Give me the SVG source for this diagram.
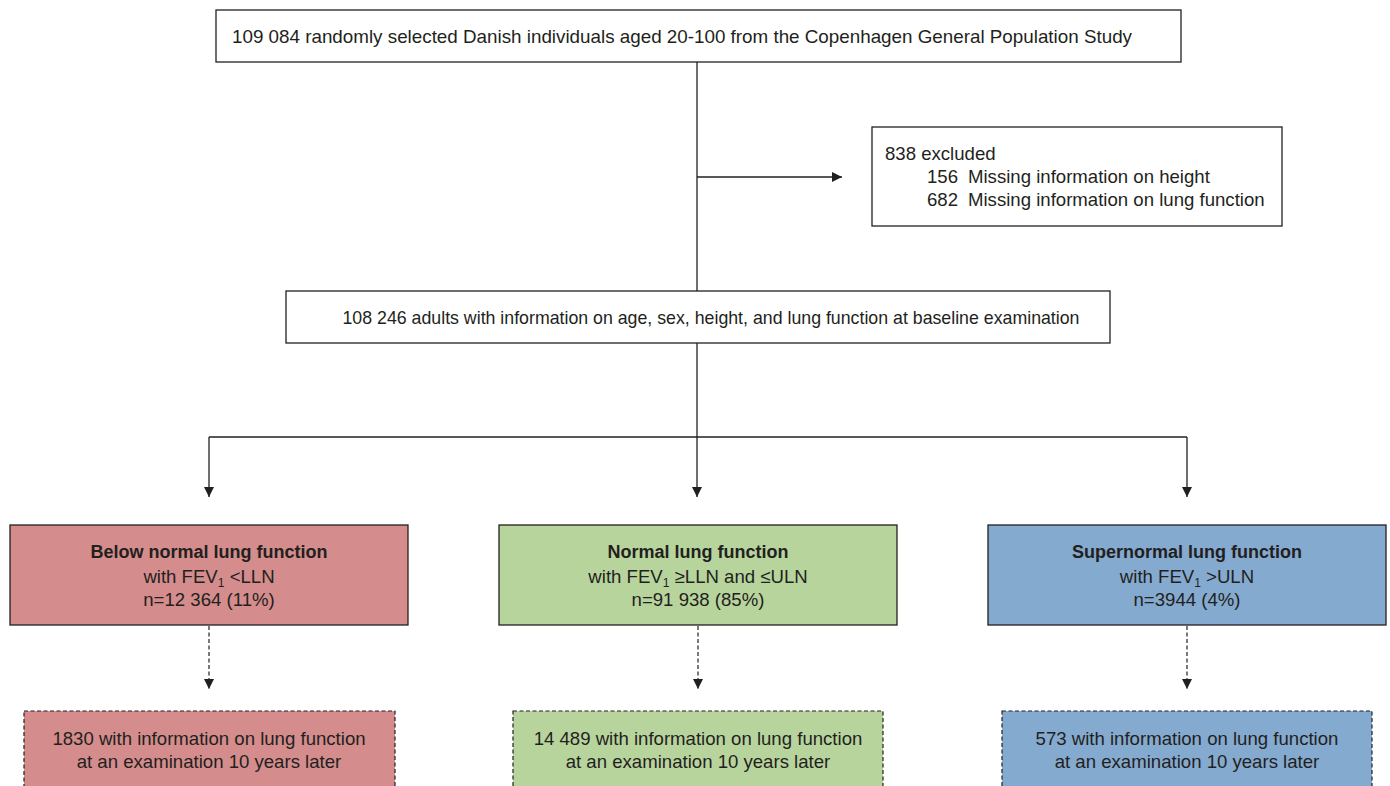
<svg xmlns="http://www.w3.org/2000/svg" width="1390" height="786" viewBox="0 0 1390 786">
<style>
.box{fill:#fff;stroke:#231f20;stroke-width:1.3}
.t{font-family:"Liberation Sans",Arial,sans-serif;font-size:18.6px;fill:#231f20}
.c{text-anchor:middle}
.b{font-weight:bold;font-size:18px}
.ln{fill:none;stroke:#231f20;stroke-width:1.3}
.dl{fill:none;stroke:#231f20;stroke-width:1.2;stroke-dasharray:4 2.5}
.red{fill:#d48d8c}.grn{fill:#b8d49d}.blu{fill:#84aad0}
.solid{stroke:#231f20;stroke-width:1.3}
.dash{stroke:#231f20;stroke-width:1.2;stroke-dasharray:4 2.5}
</style>
<defs>
<marker id="ah" viewBox="0 0 10 10" refX="10" refY="5" markerWidth="10" markerHeight="10" markerUnits="userSpaceOnUse" orient="auto">
<path d="M0,0 L10,5 L0,10 z" fill="#231f20"/>
</marker>
</defs>
<g id="connectors">
<path class="ln" d="M697,62 V291"/>
<path class="ln" d="M697,177 H842" marker-end="url(#ah)"/>
<path class="ln" d="M697,343 V437"/>
<path class="ln" d="M209,437 H1187"/>
<path class="ln" d="M209,437 V497" marker-end="url(#ah)"/>
<path class="ln" d="M697,437 V497" marker-end="url(#ah)"/>
<path class="ln" d="M1187,437 V497" marker-end="url(#ah)"/>
<path class="dl" d="M209,626 V689" marker-end="url(#ah)"/>
<path class="dl" d="M698,626 V689" marker-end="url(#ah)"/>
<path class="dl" d="M1187,626 V689" marker-end="url(#ah)"/>
</g>
<g id="n-start">
<rect class="box" x="216" y="10" width="965" height="52"/>
<text class="t c" x="682" y="43" textLength="900" lengthAdjust="spacingAndGlyphs">109 084 randomly selected Danish individuals aged 20-100 from the Copenhagen General Population Study</text>
</g>
<g id="n-excluded">
<rect class="box" x="872" y="127" width="410" height="99"/>
<text class="t" x="885" y="160">838 excluded</text>
<text class="t" x="927" y="183">156</text>
<text class="t" x="968" y="183">Missing information on height</text>
<text class="t" x="927" y="206">682</text>
<text class="t" x="968" y="206">Missing information on lung function</text>
</g>
<g id="n-baseline">
<rect class="box" x="286" y="291" width="824" height="52"/>
<text class="t c" x="711" y="324" textLength="737" lengthAdjust="spacingAndGlyphs">108 246 adults with information on age, sex, height, and lung function at baseline examination</text>
</g>
<g id="n-below">
<rect class="red solid" x="10" y="525" width="398" height="100"/>
<text class="t c b" x="209" y="558">Below normal lung function</text>
<text class="t c" x="209" y="583">with FEV<tspan font-size="12" dy="4">1</tspan><tspan dy="-4"> &lt;LLN</tspan></text>
<text class="t c" x="209" y="606">n=12 364 (11%)</text>
</g>
<g id="n-normal">
<rect class="grn solid" x="499" y="525" width="398" height="100"/>
<text class="t c b" x="698" y="558">Normal lung function</text>
<text class="t c" x="698" y="583">with FEV<tspan font-size="12" dy="4">1</tspan><tspan dy="-4"> ≥LLN and ≤ULN</tspan></text>
<text class="t c" x="698" y="606">n=91 938 (85%)</text>
</g>
<g id="n-super">
<rect class="blu solid" x="988" y="525" width="398" height="100"/>
<text class="t c b" x="1187" y="558">Supernormal lung function</text>
<text class="t c" x="1187" y="583">with FEV<tspan font-size="12" dy="4">1</tspan><tspan dy="-4"> &gt;ULN</tspan></text>
<text class="t c" x="1187" y="606">n=3944 (4%)</text>
</g>
<g id="n-below-fu">
<rect class="red dash" x="24" y="711" width="371" height="90"/>
<text class="t c" x="209" y="745">1830 with information on lung function</text>
<text class="t c" x="209" y="768">at an examination 10 years later</text>
</g>
<g id="n-normal-fu">
<rect class="grn dash" x="513" y="711" width="370" height="90"/>
<text class="t c" x="698" y="745">14 489 with information on lung function</text>
<text class="t c" x="698" y="768">at an examination 10 years later</text>
</g>
<g id="n-super-fu">
<rect class="blu dash" x="1002" y="711" width="370" height="90"/>
<text class="t c" x="1187" y="745">573 with information on lung function</text>
<text class="t c" x="1187" y="768">at an examination 10 years later</text>
</g>
</svg>
